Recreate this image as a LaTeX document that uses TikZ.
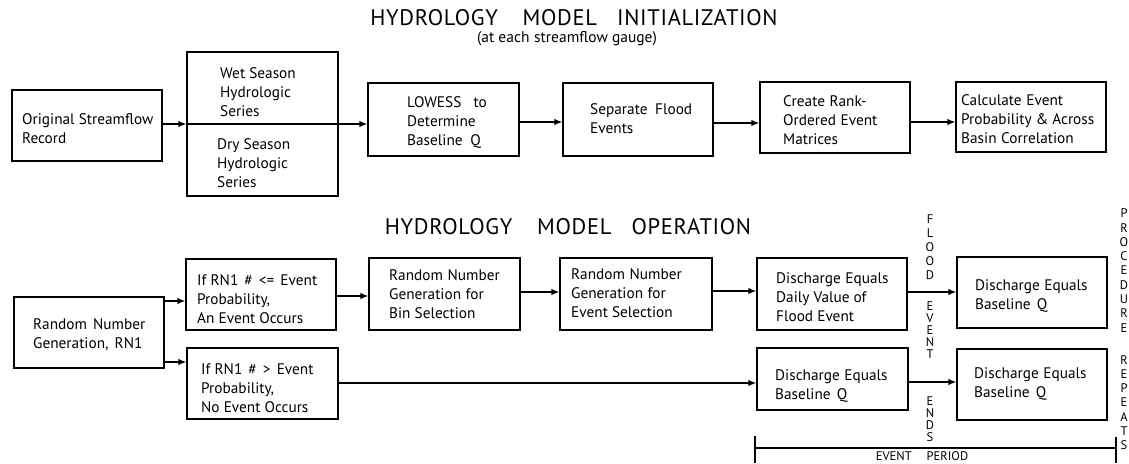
\documentclass[tikz,border=0pt]{standalone}
\usepackage{fontspec}
\setmainfont{PT Sans}
\newfontfamily\titlefont[LetterSpace=3]{PT Sans}
\usetikzlibrary{arrows.meta,calc}
\tikzset{
  box/.style={draw,line width=1.3pt,rectangle,inner sep=0pt},
  txt/.style={anchor=west,align=left,inner sep=0pt,font=\fontsize{15.3}{19}\selectfont},
  arr/.style={line width=1.3pt,-{Latex[length=8pt,width=6.5pt]}},
  vtxt/.style={align=center,inner sep=0pt,font=\fontsize{12.5}{14}\selectfont},
  ttl/.style={anchor=base,inner sep=0pt,font=\titlefont\fontsize{22.5}{24}\selectfont},
}
\newcommand{\mybox}[5]{% name, x1,y1,x2,y2
  \node[box,minimum width=#4-#2 pt,minimum height=#5-#3 pt] (#1) at ({(#2+#4)/2},{(#3+#5)/2}) {};}
\begin{document}
\begin{tikzpicture}[x=1pt,y=-1pt]
\useasboundingbox (0,0) rectangle (1129,463);
% titles
\node[ttl] (t1) at (574,25) {HYDROLOGY\hspace{1.1em}MODEL\hspace{0.9em}INITIALIZATION};
\node[anchor=base,inner sep=0pt,font=\fontsize{15.5}{18}\selectfont] (t1s) at (567,42) {(at each\hspace{0.3em}streamflow gauge)};
\node[ttl] (t2) at (568,234) {HYDROLOGY\hspace{1.1em}MODEL\hspace{0.9em}OPERATION};
% initialization boxes
\mybox{orig}{12}{90}{162}{161}
\node[txt] (origt) at (22,129) {Original Streamflow\\Record};
\mybox{wetdry}{187}{52}{338}{196}
\node[txt] (wett) at (220,92) {Wet Season\\Hydrologic\\Series};
\node[txt] (dryt) at (217,163) {Dry Season\\Hydrologic\\Series};
\mybox{lowess}{368}{83}{519}{156}
\node[txt] (lowesst) at (407,122) {LOWESS\hspace{0.8em}to\\Determine\\Baseline\hspace{0.5em}Q};
\mybox{sep}{563}{83}{713}{156}
\node[txt] (sept) at (590,118.5) {Separate\hspace{0.5em}Flood\\Events};
\mybox{create}{760}{82}{910}{153}
\node[txt] (createt) at (783,120) {Create\hspace{0.3em}Rank-\\Ordered\hspace{0.3em}Event\\Matrices};
\mybox{calc}{956}{82}{1106}{152}
\node[txt] (calct) at (961,119) {Calculate\hspace{0.3em}Event\\Probability \& Across\\Basin\hspace{0.3em}Correlation};
% init arrows
\coordinate (i1) at ($(orig.east)+(0,-1.5)$);
\draw[arr] (i1) -- (i1 -| wetdry.west);
\draw[arr] (i1 -| wetdry.west) -- (i1 -| lowess.west);
\coordinate (i2) at ($(lowess.east)+(0,2.5)$);
\draw[arr] (i2) -- (i2 -| sep.west);
\coordinate (i3) at ($(sep.east)+(0,3.5)$);
\draw[arr] (i3) -- (i3 -| create.west);
\coordinate (i4) at ($(create.east)+(0,4.5)$);
\draw[arr] (i4) -- (i4 -| calc.west);
% operation boxes
\mybox{rng}{14}{297}{164}{368}
\node[txt] (rngt) at (33,334.5) {Random\hspace{0.4em}Number\\Generation,\hspace{0.4em}RN1};
\mybox{ifle}{186}{259}{336}{330}
\node[txt] (iflet) at (197,299) {If RN1\hspace{0.4em}\#\hspace{0.4em}<=\hspace{0.4em}Event\\Probability,\\An Event Occurs};
\mybox{ifgt}{187}{348}{338}{419}
\node[txt] (ifgtt) at (201,388) {If RN1\hspace{0.4em}\#\hspace{0.4em}>\hspace{0.4em}Event\\Probability,\\No Event Occurs};
\mybox{bin}{369}{258}{520}{330}
\node[txt] (bint) at (389,294) {Random\hspace{0.3em}Number\\Generation\hspace{0.3em}for\\Bin Selection};
\mybox{evs}{560}{258}{712}{330}
\node[txt] (evst) at (571,293) {Random\hspace{0.3em}Number\\Generation\hspace{0.3em}for\\Event Selection};
\mybox{daily}{757}{258}{907}{330}
\node[txt] (dailyt) at (776,297) {Discharge\hspace{0.3em}Equals\\Daily Value of\\Flood Event};
\mybox{base1}{757}{348}{908}{410}
\node[txt] (base1t) at (775,385.5) {Discharge\hspace{0.3em}Equals\\Baseline\hspace{0.4em}Q};
\mybox{base2}{957}{257}{1107}{328}
\node[txt] (base2t) at (975,296) {Discharge\hspace{0.3em}Equals\\Baseline\hspace{0.4em}Q};
\mybox{base3}{957}{349}{1107}{420}
\node[txt] (base3t) at (974,383.5) {Discharge\hspace{0.3em}Equals\\Baseline\hspace{0.4em}Q};
% operation arrows
\coordinate (o1) at ($(rng.east)+(0,-31.5)$);
\draw[arr] (o1) -- (o1 -| ifle.west);
\coordinate (o2) at ($(rng.east)+(0,29.5)$);
\draw[arr] (o2) -- (o2 -| ifgt.west);
\coordinate (o3) at ($(ifle.east)+(0,1.5)$);
\draw[arr] (o3) -- (o3 -| bin.west);
\coordinate (o4) at ($(bin.east)+(0,-2)$);
\draw[arr] (o4) -- (o4 -| evs.west);
\coordinate (o5) at ($(evs.east)+(0,-3)$);
\draw[arr] (o5) -- (o5 -| daily.west);
\coordinate (o6) at ($(ifgt.east)+(0,-0.5)$);
\draw[arr] (o6) -- (o6 -| base1.west);
\coordinate (o7) at ($(daily.east)+(0,-2)$);
\draw[arr] (o7) -- (o7 -| base2.west);
\coordinate (o8) at ($(base1.east)+(0,3)$);
\draw[arr] (o8) -- (o8 -| base3.west);
% vertical labels
\node[vtxt] (flood) at (930,247) {F\\L\\O\\O\\D};
\node[vtxt,font=\fontsize{12.5}{12}\selectfont] (event) at (930,330) {E\\V\\E\\N\\T};
\node[vtxt,font=\fontsize{12.5}{12}\selectfont] (ends) at (930,419) {E\\N\\D\\S};
\node[vtxt,font=\fontsize{12.5}{14.3}\selectfont] (proc) at (1124,270.5) {P\\R\\O\\C\\E\\D\\U\\R\\E};
\node[vtxt,font=\fontsize{12.5}{14.2}\selectfont] (rep) at (1124,402.5) {R\\E\\P\\E\\A\\T\\S};
% event period
\coordinate (ep1) at (755,436);
\coordinate (ep2) at (755,463);
\coordinate (ep3) at (1116,437);
\coordinate (ep4) at (1116,463);
\coordinate (epl) at (755,448);
\coordinate (epr) at (1116,448);
\draw[line width=1.3pt] (ep1) -- (ep2);
\draw[line width=1.3pt] (ep3) -- (ep4);
\draw[line width=1.3pt] (epl) -- (epr);
\node[inner sep=0pt,font=\fontsize{12.5}{14}\selectfont] (ept) at (922,456.5) {EVENT\hspace{1.2em}PERIOD};
\end{tikzpicture}
\end{document}
